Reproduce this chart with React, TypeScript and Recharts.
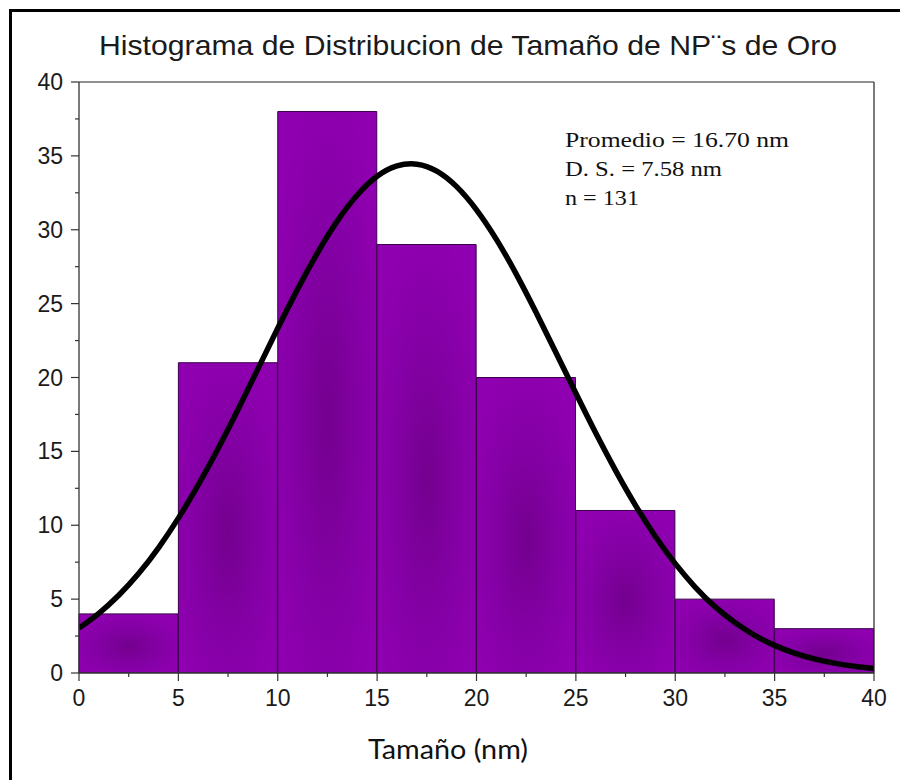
import React from 'react';
import { ComposedChart, Bar, Line, XAxis, YAxis, ReferenceLine } from 'recharts';

// Histogram bins (nm) and counts
const binLabels = ['0-5', '5-10', '10-15', '15-20', '20-25', '25-30', '30-35', '35-40'];
const binCounts = [4, 21, 38, 29, 20, 11, 5, 3];

// Fitted normal curve
const curveSizes = [0, 1, 2, 3, 4, 5, 6, 7, 8, 9, 10, 11, 12, 13, 14, 15, 16, 17, 18, 19, 20,
  21, 22, 23, 24, 25, 26, 27, 28, 29, 30, 31, 32, 33, 34, 35, 36, 37, 38, 39, 40];
const curveCounts = [3.04, 4.04, 5.26, 6.73, 8.47, 10.48, 12.73, 15.2, 17.84, 20.58, 23.33, 25.98,
  28.44, 30.6, 32.35, 33.62, 34.32, 34.44, 33.97, 32.92, 31.35, 29.35, 27.0, 24.4, 21.68, 18.93,
  16.24, 13.7, 11.35, 9.24, 7.4, 5.82, 4.49, 3.42, 2.55, 1.87, 1.35, 0.96, 0.67, 0.46, 0.31];

const xTicks = [0, 2.5, 5, 7.5, 10, 12.5, 15, 17.5, 20, 22.5, 25, 27.5, 30, 32.5, 35, 37.5, 40];
const yTicks = [0, 2.5, 5, 7.5, 10, 12.5, 15, 17.5, 20, 22.5, 25, 27.5, 30, 32.5, 35, 37.5, 40];

const titleText = 'Histograma de Distribucion de Tamaño de NP¨s de Oro';
const statsLines = ['Promedio = 16.70 nm', 'D. S. = 7.58 nm', 'n = 131'];
const xLabelText = 'Tamaño (nm)';

const barData = binLabels.map((bin, i) => ({ bin, count: binCounts[i] }));
const curveData = curveSizes.map((x, i) => ({ x, y: curveCounts[i] }));

const TICK_COLOR = '#333';
const LABEL_FONT = '"Liberation Sans", Arial, sans-serif';

const YTick = (props: any) => {
  const { x, y, payload } = props;
  const v = payload.value;
  const major = Math.abs(v % 5) < 1e-6;
  // x = axisX - tickSize(8) - tickMargin(6)
  const axisX = x + 14;
  return (
    <g>
      <line x1={axisX - (major ? 8 : 4)} x2={axisX} y1={y} y2={y} stroke={TICK_COLOR} strokeWidth={1.2} />
      {major && (
        <text x={axisX - 16} y={y} dy={8} textAnchor="end" fontFamily={LABEL_FONT} fontSize={23} fill="#1a1a1a">
          {v}
        </text>
      )}
    </g>
  );
};

const XTick = (props: any) => {
  const { x, y, payload } = props;
  const v = payload.value;
  const major = Math.abs(v % 5) < 1e-6;
  // y = axisY + tickSize(8) + tickMargin(2)
  const axisY = y - 10;
  return (
    <g>
      <line x1={x} x2={x} y1={axisY} y2={axisY + (major ? 8 : 4)} stroke={TICK_COLOR} strokeWidth={1.2} />
      {major && (
        <text x={x} y={axisY + 33} textAnchor="middle" fontFamily={LABEL_FONT} fontSize={23} fill="#1a1a1a">
          {v}
        </text>
      )}
    </g>
  );
};

export default function App() {
  return (
    <div style={{ position: 'absolute', left: 0, top: 0, width: 900, height: 780, background: '#fff' }}>
      <ComposedChart
        width={900}
        height={780}
        data={barData}
        margin={{ top: 82, right: 26, bottom: 73, left: 19 }}
        barCategoryGap={0}
        barGap={0}
      >
        <defs>
          <radialGradient id="barGrad" cx="0.5" cy="0.55" r="0.6">
            <stop offset="0%" stopColor="#74008f" />
            <stop offset="55%" stopColor="#8400a5" />
            <stop offset="100%" stopColor="#8f00b0" />
          </radialGradient>
        </defs>
        <XAxis
          xAxisId="num"
          dataKey="x"
          type="number"
          domain={[0, 40]}
          allowDataOverflow
          ticks={xTicks}
          interval={0}
          tickSize={8}
          tickMargin={2}
          tickLine={false}
          tick={<XTick />}
          height={34}
          axisLine={{ stroke: TICK_COLOR, strokeWidth: 1.3 }}
        />
        <XAxis xAxisId="cat" dataKey="bin" type="category" hide height={0} />
        <YAxis
          type="number"
          domain={[0, 40]}
          allowDataOverflow
          ticks={yTicks}
          interval={0}
          tickSize={8}
          tickMargin={6}
          tickLine={false}
          tick={<YTick />}
          width={60}
          axisLine={{ stroke: TICK_COLOR, strokeWidth: 1.3 }}
        />
        <Bar
          xAxisId="cat"
          dataKey="count"
          fill="url(#barGrad)"
          stroke="#3a004c"
          strokeWidth={1}
          isAnimationActive={false}
        />
        <Line
          xAxisId="num"
          data={curveData}
          dataKey="y"
          type="natural"
          stroke="#000"
          strokeWidth={5.5}
          dot={false}
          activeDot={false}
          isAnimationActive={false}
        />
        <ReferenceLine xAxisId="num" y={40} stroke="#222" strokeWidth={1.2} />
        <ReferenceLine xAxisId="num" x={40} stroke="#222" strokeWidth={1.2} />
      </ComposedChart>
      <svg
        width={900}
        height={780}
        style={{ position: 'absolute', left: 0, top: 0, pointerEvents: 'none' }}
      >
        <line x1={10.5} y1={10.5} x2={900} y2={10.5} stroke="#000" strokeWidth={3} />
        <line x1={10.5} y1={9} x2={10.5} y2={780} stroke="#000" strokeWidth={3} />
        <text
          x={468}
          y={55}
          textAnchor="middle"
          fontFamily={LABEL_FONT}
          fontSize={28}
          fill="#1a1a1a"
          textLength={738}
          lengthAdjust="spacingAndGlyphs"
        >
          {titleText}
        </text>
        {statsLines.map((s, i) => (
          <text
            key={s}
            x={565}
            y={147 + i * 29}
            fontFamily='"Liberation Serif", "Times New Roman", serif'
            fontSize={21}
            fill="#111"
            textLength={[224, 157, 74][i]}
            lengthAdjust="spacingAndGlyphs"
          >
            {s}
          </text>
        ))}
        <text
          x={448}
          y={759}
          textAnchor="middle"
          fontFamily='Lato, "Open Sans", sans-serif'
          fontSize={27}
          fill="#111"
          textLength={160}
          lengthAdjust="spacingAndGlyphs"
        >
          {xLabelText}
        </text>
      </svg>
    </div>
  );
}
